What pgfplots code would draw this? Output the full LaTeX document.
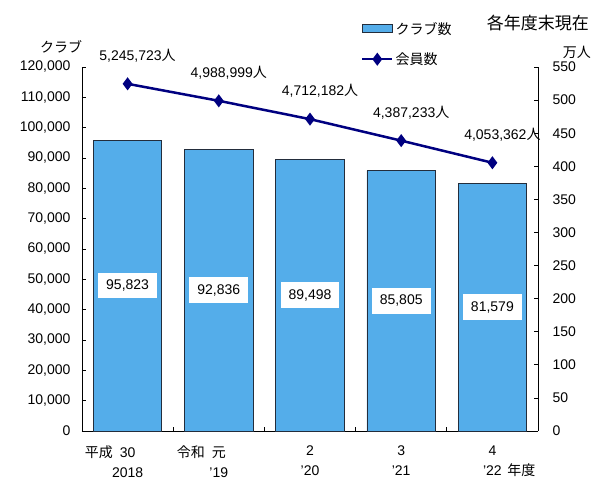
\documentclass[border=0pt]{standalone}
\usepackage{pgfplots}
\usepackage{pgfplotstable}
\pgfplotsset{compat=1.18}
\usepackage{fontspec}
\setmainfont{Liberation Sans}
\newfontfamily\jp{Noto Sans CJK JP}

\definecolor{barblue}{RGB}{84,173,234}
\definecolor{baredge}{RGB}{35,45,60}
\definecolor{linenavy}{RGB}{0,0,128}

\pgfplotsset{
	barimg/.style={legend image code/.code={\draw[##1] (0pt,-4pt) rectangle (30pt,4pt);}},
	lineimg/.style={legend image code/.code={\draw[mark repeat=2,mark phase=2,##1] plot coordinates {(0pt,0pt) (15pt,0pt) (30pt,0pt)};}},
}

% clubs = number of clubs, members = number of members (persons)
\pgfplotstableread{
x clubs members
0 95823 5245723
1 92836 4988999
2 89498 4712182
3 85805 4387233
4 81579 4053362
}\datatable

\begin{document}
\begin{tikzpicture}[font=\fontsize{14}{20}\selectfont]
\path[use as bounding box] (-82pt,-53pt) rectangle (515pt,431pt);
\begin{axis}[
	scale only axis,
	width=456pt,
	height=364pt,
	xmin=-0.5, xmax=4.5,
	ymin=0, ymax=120000,
	clip=false,
	axis x line*=bottom,
	axis y line*=left,
	axis line style={black, line width=0.8pt},
	tick style={black, line width=0.8pt},
	tick align=inside,
	major tick length=4pt,
	minor tick length=4pt,
	xtick={0,1,2,3,4},
	major x tick style={draw=none},
	minor xtick={0.5,1.5,2.5,3.5},
	xticklabels={
		{\llap{\jp 平成\hspace{0.5em}}30\\2018},
		{\llap{\jp 令和\hspace{0.5em}}{\jp 元}\\'19},
		{2\\'20},
		{3\\'21},
		{4\\'22\rlap{\hspace{0.4em}\jp 年度}}},
	xticklabel style={align=center, yshift=-11pt},
	ytick={0,10000,...,120000},
	scaled y ticks=false,
	/pgf/number format/fixed,
	/pgf/number format/1000 sep={,},
	/pgf/number format/assume math mode=true,
	yticklabel style={xshift=-8pt},
]
\addplot[ybar, bar width=0.75, fill=barblue, draw=baredge, line width=0.9pt]
	table[x=x, y=clubs]{\datatable};
\addplot[draw=none, mark=none, forget plot,
	point meta=explicit symbolic,
	nodes near coords={\pgfmathprintnumber[fixed,precision=0,1000 sep={,}]{\pgfplotspointmeta}},
	every node near coord/.style={anchor=center, fill=white, text=black, inner xsep=8pt, inner ysep=7pt},
] table[x=x, y expr=\thisrow{clubs}/2, meta=clubs]{\datatable};
\node at (rel axis cs:-0.046,1.056) {\jp クラブ};
\end{axis}

\begin{axis}[
	scale only axis,
	width=456pt,
	height=364pt,
	xmin=-0.5, xmax=4.5,
	ymin=0, ymax=550,
	clip=false,
	axis x line=none,
	axis y line*=right,
	axis line style={black, line width=0.8pt},
	tick style={black, line width=0.8pt},
	tick align=inside,
	major tick length=4pt,
	ytick={0,50,...,550},
	/pgf/number format/assume math mode=true,
	yticklabel style={xshift=11pt},
	legend style={at={(rel axis cs:0.605,1.135)}, anchor=north west, draw=none, fill=none,
		row sep=13pt, font=\fontsize{14}{16}\selectfont},
	legend cell align=left,
]
\addlegendimage{fill=barblue, draw=baredge, line width=0.9pt, barimg}
\addlegendentry{\jp クラブ数}
\addplot[linenavy, line width=2.5pt, mark=diamond*, mark size=4.5pt, lineimg,
	point meta=explicit symbolic,
	nodes near coords={\pgfmathprintnumber[fixed,precision=0,1000 sep={,}]{\pgfplotspointmeta}{\jp 人}},
	every node near coord/.style={anchor=center, text=black, xshift=10pt, yshift=28pt},
] table[x=x, y expr=\thisrow{members}/10000, meta=members]{\datatable};
\addlegendentry{\jp 会員数}
\node at (rel axis cs:1.085,1.04) {\jp 万人};
\node at (rel axis cs:1.0,1.121) {\fontsize{17}{19}\selectfont\jp 各年度末現在};
\end{axis}
\end{tikzpicture}
\end{document}
